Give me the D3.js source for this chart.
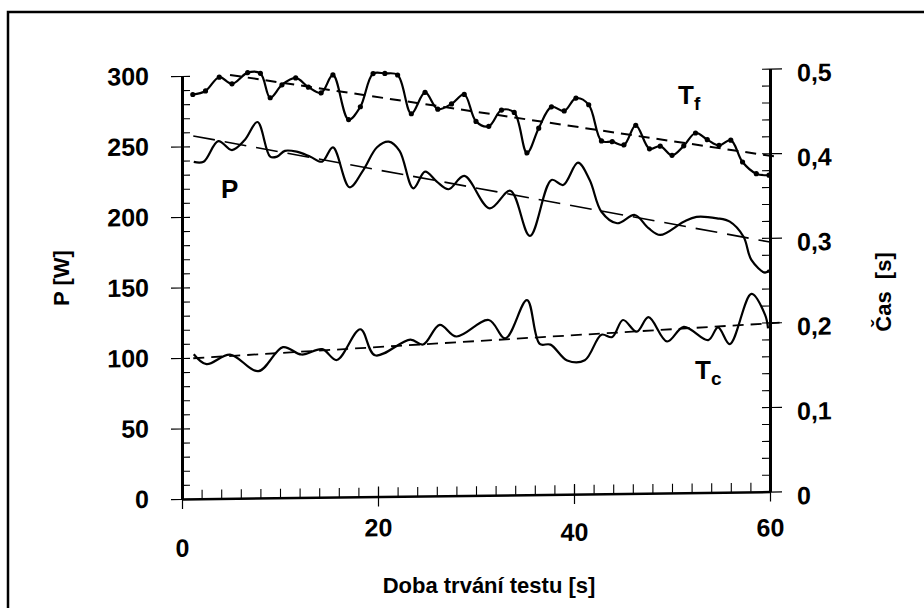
<!DOCTYPE html>
<html>
<head>
<meta charset="utf-8">
<script src="https://cdn.jsdelivr.net/npm/d3@7"></script>
<style>
  body { margin: 0; background: #fff; }
  svg { display: block; font-family: "Liberation Sans", Arial, sans-serif; }
</style>
</head>
<body>
<div id="chart"></div>
<script>
// T_f - sampled points (with dots), right axis [s]
const tfTime  = [1.1,2.4,3.8,5.1,6.7,8.0,9.0,10.2,11.6,12.9,14.2,15.4,17.0,18.2,19.5,20.7,22.0,23.4,24.8,26.1,27.5,28.8,30.0,31.3,32.6,33.9,35.2,36.4,37.7,39.0,40.2,41.5,42.8,43.9,45.1,46.3,47.7,48.8,50.0,51.2,52.4,53.6,54.8,56.0,57.2,58.6,59.9]
const tfValue = [0.478,0.482,0.498,0.490,0.503,0.502,0.473,0.488,0.496,0.485,0.478,0.499,0.446,0.461,0.500,0.500,0.498,0.452,0.477,0.457,0.463,0.474,0.442,0.436,0.455,0.452,0.404,0.433,0.458,0.453,0.468,0.460,0.417,0.416,0.412,0.435,0.407,0.410,0.399,0.410,0.425,0.417,0.410,0.416,0.390,0.376,0.374]

// P - power, left axis [W]
const pTime  = [1.2,2.2,3.7,5.1,6.4,7.7,9.0,9.7,10.5,11.7,13.1,14.3,15.4,17.1,18.5,19.9,21.1,22.2,23.6,24.8,26.0,27.2,28.8,31.4,33.5,35.5,37.7,38.9,40.4,41.6,42.8,44.4,46.2,47.6,48.8,51.2,52.5,54.6,55.9,57.3,58.1,59.5,59.9]
const pValue = [239,239,253.5,247,254,266.7,242,242,246,245.3,241.6,238,248,219.6,231.7,247.7,251.6,245,218.3,230,222.8,217.3,226.6,203.4,215.7,183.5,223,219.3,235,222.6,200,191.7,197.4,187.9,183,192.2,195.5,194.3,191.8,181,164.5,155.3,157.2]

// T_c - right axis [s]
const tcTime  = [1.2,2.5,4.9,7.8,10.3,12.2,14.3,15.8,18.2,19.7,23.3,24.6,26.3,28.0,31.3,33.0,35.2,36.5,37.6,39.3,41.1,42.8,43.9,45.0,46.4,47.6,49.5,51.2,53.7,54.7,55.9,58.1,59.5,59.8]
const tcValue = [0.171,0.159,0.170,0.150,0.178,0.169,0.175,0.162,0.198,0.167,0.185,0.179,0.202,0.188,0.207,0.185,0.230,0.178,0.177,0.158,0.158,0.188,0.185,0.205,0.191,0.208,0.179,0.196,0.180,0.195,0.175,0.234,0.209,0.193]

// linear trends (start, end)
const tfTrendTime  = [4.9, 61]
const tfTrendValue = [0.5005, 0.3951]
const pTrendTime   = [1.15, 60]
const pTrendValue  = [257.4, 177]
const tcTrendTime  = [1.15, 61]
const tcTrendValue = [0.1662, 0.1995]

// ticks
const xTicks = [0, 20, 40, 60]
const xTickLabels = ["0", "20", "40", "60"]
const pTicks = [0, 50, 100, 150, 200, 250, 300]
const pTickLabels = ["0", "50", "100", "150", "200", "250", "300"]
const tTicks = [0, 0.1, 0.2, 0.3, 0.4, 0.5]
const tTickLabels = ["0", "0,1", "0,2", "0,3", "0,4", "0,5"]

// chart parameters
const WIDTH = 924
const HEIGHT = 608
const PLOT = {LEFT: 182, RIGHT: 770, TOP: 76, BOTTOM: 499}
const SKEW = -0.72            // the scanned original is slightly sheared
const X_LABEL_NUDGE = [18, 0, 7, 5]   // pasted-up tick labels sit at uneven heights

const x  = d3.scaleLinear().domain([0, 60]).range([PLOT.LEFT, PLOT.RIGHT])
const yP = d3.scaleLinear().domain([0, 300]).range([PLOT.BOTTOM, PLOT.TOP])
const yT = d3.scaleLinear().domain([0, 0.5]).range([PLOT.BOTTOM, PLOT.TOP])

const svg = d3.select("#chart").append("svg")
    .attr("width", WIDTH)
    .attr("height", HEIGHT)

svg.append("rect").attr("width", WIDTH).attr("height", HEIGHT).attr("fill", "#fff")

// outer frame (only left and top edges are inside the picture)
svg.append("rect")
    .attr("x", 8).attr("y", 12)
    .attr("width", WIDTH + 20).attr("height", HEIGHT + 20)
    .attr("fill", "none").attr("stroke", "#000").attr("stroke-width", 2.5)

const plot = svg.append("g")
    .attr("transform", `translate(${PLOT.LEFT},${PLOT.BOTTOM}) skewY(${SKEW}) translate(${-PLOT.LEFT},${-PLOT.BOTTOM})`)

function styleAxis(g, domainWidth) {
    g.select(".domain").attr("stroke-width", domainWidth)
    g.selectAll(".tick line").attr("stroke-width", 1.2)
    g.selectAll(".tick text")
        .attr("fill", "#000")
        .style("font-size", "25px")
        .style("font-weight", "bold")
}

// left axis: major ticks out, minor ticks in
plot.append("g")
    .attr("transform", `translate(${PLOT.LEFT},0)`)
    .call(d3.axisRight(yP).tickValues(d3.range(0, 301, 10)).tickSize(8).tickFormat(""))
    .call(g => g.select(".domain").remove())
    .call(g => g.selectAll(".tick line").attr("stroke-width", 1.1))
plot.append("g")
    .attr("transform", `translate(${PLOT.LEFT},0)`)
    .call(d3.axisLeft(yP).tickValues(pTicks).tickSize(11).tickSizeOuter(0).tickPadding(22)
        .tickFormat((d, i) => pTickLabels[i]))
    .call(g => styleAxis(g, 3))

// right axis
plot.append("g")
    .attr("transform", `translate(${PLOT.RIGHT},0)`)
    .call(d3.axisLeft(yT).tickValues(d3.range(0, 26).map(i => i * 0.02)).tickSize(8).tickFormat(""))
    .call(g => g.select(".domain").remove())
    .call(g => g.selectAll(".tick line").attr("stroke-width", 1.1))
plot.append("g")
    .attr("transform", `translate(${PLOT.RIGHT},0)`)
    .call(d3.axisRight(yT).tickValues(tTicks).tickSize(12).tickSizeOuter(0).tickPadding(15)
        .tickFormat((d, i) => tTickLabels[i]))
    .call(g => styleAxis(g, 3))
    .call(g => g.selectAll(".tick text").attr("dy", "0.5em"))

// bottom axis
plot.append("g")
    .attr("transform", `translate(0,${PLOT.BOTTOM})`)
    .call(d3.axisTop(x).tickValues(d3.range(0, 61, 2)).tickSize(9).tickFormat(""))
    .call(g => g.select(".domain").remove())
    .call(g => g.selectAll(".tick line").attr("stroke-width", 1.1))
plot.append("g")
    .attr("transform", `translate(0,${PLOT.BOTTOM})`)
    .call(d3.axisTop(x).tickValues(xTicks).tickSize(10).tickFormat(""))
    .call(g => g.select(".domain").remove())
    .call(g => g.selectAll(".tick line").attr("stroke-width", 1.2))
plot.append("g")
    .attr("transform", `translate(0,${PLOT.BOTTOM})`)
    .call(d3.axisBottom(x).tickValues(xTicks).tickSize(10).tickSizeOuter(0).tickPadding(12)
        .tickFormat((d, i) => xTickLabels[i]))
    .call(g => styleAxis(g, 2.5))
    .call(g => g.selectAll(".tick text").attr("transform", (d, i) => `translate(0,${X_LABEL_NUDGE[i]})`))

// curves
const smooth = d3.curveCatmullRom.alpha(0.5)
const lineP = d3.line().x(d => x(d[0])).y(d => yP(d[1])).curve(smooth)
const lineT = d3.line().x(d => x(d[0])).y(d => yT(d[1])).curve(smooth)
const straightP = d3.line().x(d => x(d[0])).y(d => yP(d[1]))
const straightT = d3.line().x(d => x(d[0])).y(d => yT(d[1]))

const tfData = d3.zip(tfTime, tfValue)
const pData  = d3.zip(pTime, pValue)
const tcData = d3.zip(tcTime, tcValue)

// trend lines
plot.append("path").attr("d", straightT(d3.zip(tfTrendTime, tfTrendValue)))
    .attr("fill", "none").attr("stroke", "#000").attr("stroke-width", 2).attr("stroke-dasharray", "11,7")
plot.append("path").attr("d", straightP(d3.zip(pTrendTime, pTrendValue)))
    .attr("fill", "none").attr("stroke", "#000").attr("stroke-width", 1.6).attr("stroke-dasharray", "22,10")
plot.append("path").attr("d", straightT(d3.zip(tcTrendTime, tcTrendValue)))
    .attr("fill", "none").attr("stroke", "#000").attr("stroke-width", 1.8).attr("stroke-dasharray", "11,7")

plot.append("path").attr("d", lineT(tfData))
    .attr("fill", "none").attr("stroke", "#000").attr("stroke-width", 2.2)
plot.append("path").attr("d", lineP(pData))
    .attr("fill", "none").attr("stroke", "#000").attr("stroke-width", 2.2)
plot.append("path").attr("d", lineT(tcData))
    .attr("fill", "none").attr("stroke", "#000").attr("stroke-width", 2.2)

plot.selectAll("circle.tf")
    .data(tfData)
    .enter()
    .append("circle")
    .attr("class", "tf")
    .attr("cx", d => x(d[0]))
    .attr("cy", d => yT(d[1]))
    .attr("r", 2.6)
    .attr("fill", "#000")

// series labels
function seriesLabel(px, py, main, sub) {
    const t = svg.append("text")
        .attr("x", px).attr("y", py)
        .style("font-size", "26px").style("font-weight", "bold")
        .text(main)
    if (sub) t.append("tspan").attr("dy", 6).style("font-size", "19px").text(sub)
}
seriesLabel(678, 104, "T", "f")
seriesLabel(221, 198, "P")
seriesLabel(695, 379, "T", "c")

// axis titles
svg.append("text")
    .attr("x", 489).attr("y", 593)
    .attr("text-anchor", "middle")
    .style("font-size", "22px").style("font-weight", "bold")
    .text("Doba trvání testu [s]")
svg.append("text")
    .attr("transform", "translate(69,278) rotate(-90)")
    .attr("text-anchor", "middle")
    .style("font-size", "22px").style("font-weight", "bold")
    .text("P [W]")
svg.append("text")
    .attr("transform", "translate(891,292) rotate(-90)")
    .attr("text-anchor", "middle")
    .style("font-size", "22px").style("font-weight", "bold")
    .style("white-space", "pre")
    .text("Čas  [s]")
</script>
</body>
</html>
